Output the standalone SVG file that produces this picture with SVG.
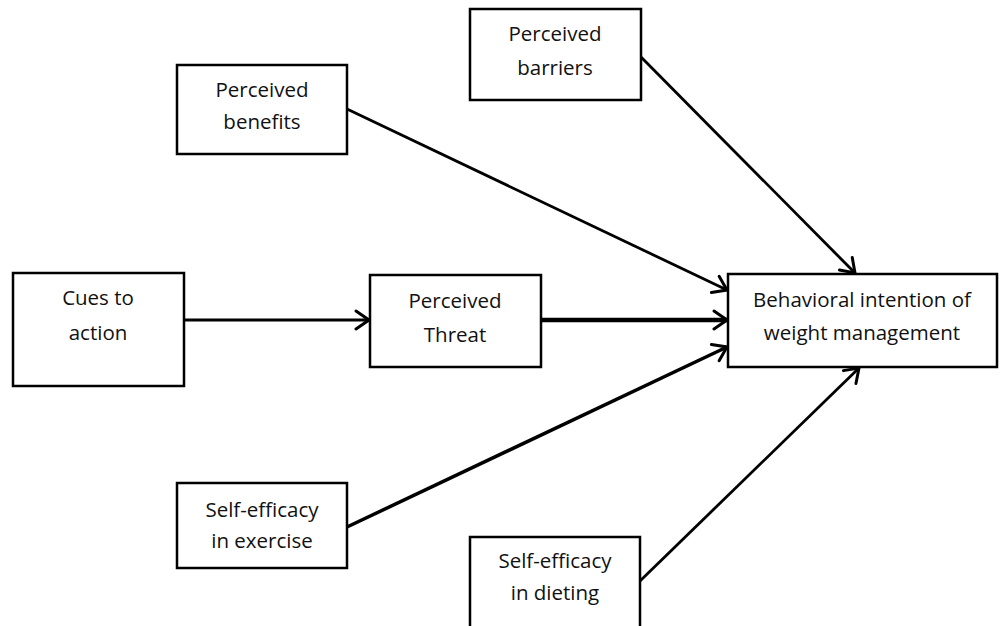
<svg xmlns="http://www.w3.org/2000/svg" width="1001" height="626" viewBox="0 0 1001 626">
<style>
.box{fill:#fff;stroke:#000;stroke-width:2.5}
.t{font-family:"Open Sans","Liberation Sans",sans-serif;font-size:20.5px;fill:#111;text-anchor:middle}
.c{fill:none;stroke:#000;stroke-width:2.8;marker-end:url(#ah)}
</style>
<defs>
<marker id="ah" markerUnits="userSpaceOnUse" markerWidth="22" markerHeight="22" viewBox="0 0 22 22" refX="20" refY="11" orient="auto">
<path d="M7,2 L20,11 L7,20" fill="none" stroke="#000" stroke-width="3" stroke-linecap="round"/>
</marker>
</defs>
<rect width="1001" height="626" fill="#fff"/>
<g id="connectors">
<line class="c" x1="347" y1="109" x2="727" y2="290"/>
<line class="c" x1="641" y1="57" x2="855" y2="273"/>
<line class="c" x1="184" y1="320" x2="369" y2="320"/>
<line class="c" x1="541" y1="320" x2="727" y2="320" style="stroke-width:4.5"/>
<line class="c" x1="347" y1="527" x2="727" y2="347" style="stroke-width:3.5"/>
<line class="c" x1="640" y1="581" x2="859" y2="368"/>
</g>
<g id="benefits"><rect class="box" x="177" y="65" width="170" height="89"/><text class="t" x="262" y="97">Perceived</text><text class="t" x="262" y="129">benefits</text></g>
<g id="barriers"><rect class="box" x="470" y="9" width="171" height="91"/><text class="t" x="555" y="41">Perceived</text><text class="t" x="555" y="75">barriers</text></g>
<g id="cues"><rect class="box" x="13" y="273" width="171" height="113"/><text class="t" x="98" y="305">Cues to</text><text class="t" x="98" y="340">action</text></g>
<g id="threat"><rect class="box" x="370" y="275" width="171" height="92"/><text class="t" x="455" y="308">Perceived</text><text class="t" x="455" y="342">Threat</text></g>
<g id="intention"><rect class="box" x="728" y="274" width="269" height="93"/><text class="t" x="862" y="307">Behavioral intention of</text><text class="t" x="862" y="340">weight management</text></g>
<g id="exercise"><rect class="box" x="177" y="483" width="170" height="85"/><text class="t" x="262" y="517">Self-efficacy</text><text class="t" x="262" y="548">in exercise</text></g>
<g id="dieting"><rect class="box" x="470" y="537" width="170" height="100"/><text class="t" x="555" y="568">Self-efficacy</text><text class="t" x="555" y="600">in dieting</text></g>
</svg>
